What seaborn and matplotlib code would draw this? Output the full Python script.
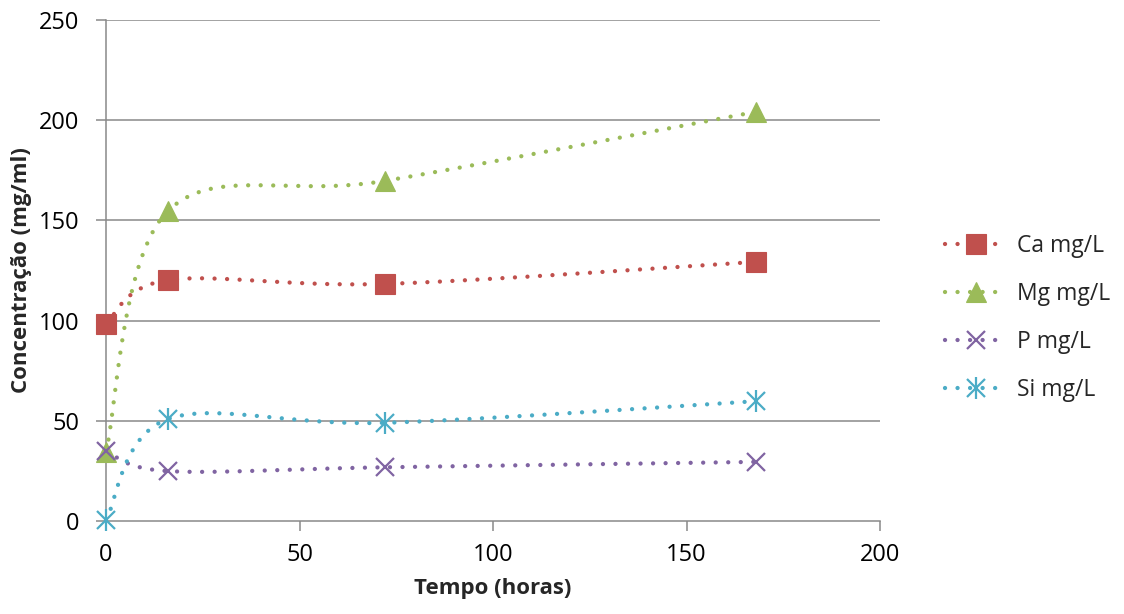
import numpy as np
import matplotlib
matplotlib.use("Agg")
import matplotlib.pyplot as plt
import seaborn as sns
from matplotlib.lines import Line2D
from matplotlib.legend_handler import HandlerTuple

# Sampling times (hours) and measured concentrations
tempo = [0, 16, 72, 168]
ca = [98.5, 120.2, 118.3, 129.3]
mg = [34.5, 154.7, 169.7, 204.2]
p = [34.8, 24.9, 26.8, 29.5]
si = [0.3, 50.9, 49.0, 59.8]

series_names = ["Ca mg/L", "Mg mg/L", "P mg/L", "Si mg/L"]
colors = ["#C0504D", "#9BBB59", "#8064A2", "#4BACC6"]

sns.set_theme(style="white")
plt.rcParams["font.family"] = ["Open Sans", "DejaVu Sans"]


def smooth_curve(xs, ys, n=60):
    """Cardinal (Catmull-Rom) Bezier spline through the given points."""
    pts = np.column_stack([xs, ys]).astype(float)
    ext = np.vstack([pts[0], pts, pts[-1]])
    out = []
    t = np.linspace(0, 1, n)[:, None]
    for i in range(len(pts) - 1):
        p0, p1, p2, p3 = ext[i], ext[i + 1], ext[i + 2], ext[i + 3]
        c1 = p1 + (p2 - p0) / 6.0
        c2 = p2 - (p3 - p1) / 6.0
        seg = ((1 - t) ** 3) * p1 + 3 * ((1 - t) ** 2) * t * c1 + 3 * (1 - t) * t ** 2 * c2 + t ** 3 * p2
        out.append(seg if i == 0 else seg[1:])
    seg = np.vstack(out)
    return seg[:, 0], seg[:, 1]


fig = plt.figure(figsize=(11.24, 6.14), dpi=100)
ax = fig.add_axes([106 / 1124, 1 - 521 / 614, (880 - 106) / 1124, (521 - 20) / 614])

dot_style = (0, (0.01, 2.9))
lw = 3.1
grid_c = "#898989"

for yv in [50, 100, 150, 200, 250]:
    ax.axhline(yv, color=grid_c, lw=1.1, zorder=0)

marker_kw = [
    dict(marker="s", markersize=14, markeredgewidth=0.8),
    dict(marker="^", markersize=15, markeredgewidth=0.8),
    dict(marker="x", markersize=13, markeredgewidth=1.6),
    dict(marker="x", markersize=13, markeredgewidth=1.6),
]

for ys, col in zip([ca, mg, p, si], colors):
    sx, sy = smooth_curve(tempo, ys)
    sns.lineplot(x=sx, y=sy, ax=ax, sort=False, estimator=None, color=col,
                 lw=lw, linestyle=dot_style, dash_capstyle="round", zorder=3,
                 clip_on=False)
for ys, col, mk in zip([ca, mg, p, si], colors, marker_kw):
    sns.lineplot(x=tempo, y=ys, ax=ax, sort=False, estimator=None, color=col,
                 linestyle="none", markeredgecolor=col, markerfacecolor=col,
                 zorder=4, clip_on=False, **mk)
# vertical stroke completing the asterisk markers for Si
sns.lineplot(x=tempo, y=si, ax=ax, sort=False, estimator=None, color=colors[3],
             linestyle="none", marker="|", markersize=16, markeredgewidth=1.6,
             markeredgecolor=colors[3], zorder=4, clip_on=False)

ax.set_xlim(0, 200)
ax.set_ylim(0, 250)
ax.set_xticks([0, 50, 100, 150, 200])
ax.set_yticks([0, 50, 100, 150, 200, 250])
ax.tick_params(axis="both", which="both", direction="out", length=7, width=1.1,
               color=grid_c, labelsize=17, labelcolor="black",
               bottom=True, left=True)
ax.tick_params(axis="y", pad=12)
ax.tick_params(axis="x", pad=9)
for side in ["top", "right"]:
    ax.spines[side].set_visible(False)
for side in ["left", "bottom"]:
    ax.spines[side].set_color(grid_c)
    ax.spines[side].set_linewidth(1.1)

ax.set_xlabel("Tempo (horas)", fontsize=16, fontweight="bold", labelpad=8)
ax.set_ylabel("Concentração (mg/ml)", fontsize=16, fontweight="bold", labelpad=5)

handles = []
for i, (name, col, mk) in enumerate(zip(series_names, colors, marker_kw)):
    line = Line2D([], [], color=col, lw=lw, linestyle=dot_style, dash_capstyle="round",
                  markeredgecolor=col, markerfacecolor=col, **mk)
    if i == 3:
        bar = Line2D([], [], color=col, linestyle="none", marker="|", markersize=16,
                     markeredgewidth=1.6, markeredgecolor=col)
        handles.append((line, bar))
    else:
        handles.append(line)

fig.legend(handles, series_names, loc="center left", bbox_to_anchor=(924 / 1124, 1 - 318 / 614),
           frameon=False, fontsize=16.5, handlelength=2.7, handletextpad=0.45,
           labelspacing=1.05, numpoints=1,
           handler_map={tuple: HandlerTuple(ndivide=1)})

fig.savefig("out.png", dpi=100)
